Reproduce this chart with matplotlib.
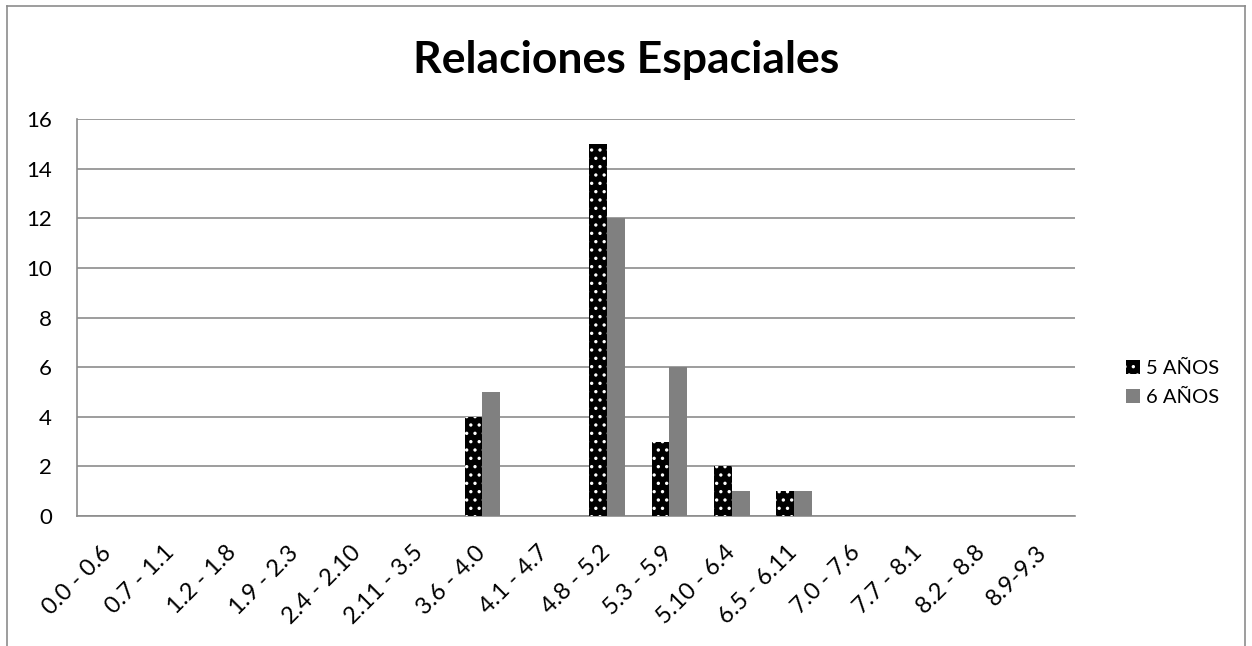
import matplotlib
matplotlib.use("Agg")
import matplotlib.pyplot as plt
import numpy as np
from matplotlib.lines import Line2D

plt.rcParams["font.family"] = ["Lato", "DejaVu Sans"]
plt.rcParams["hatch.linewidth"] = 1.2

categories = [
    "0.0 - 0.6", "0.7 - 1.1", "1.2 - 1.8", "1.9 - 2.3", "2.4 - 2.10",
    "2.11 - 3.5", "3.6 - 4.0", "4.1 - 4.7", "4.8 - 5.2", "5.3 - 5.9",
    "5.10 - 6.4", "6.5 - 6.11", "7.0 - 7.6", "7.7 - 8.1", "8.2 - 8.8",
    "8.9-9.3",
]
anos_5 = [0, 0, 0, 0, 0, 0, 4, 0, 15, 3, 2, 1, 0, 0, 0, 0]
anos_6 = [0, 0, 0, 0, 0, 0, 5, 0, 12, 6, 1, 1, 0, 0, 0, 0]
y_ticks = [0, 2, 4, 6, 8, 10, 12, 14, 16]

fig = plt.figure(figsize=(12.52, 6.46), dpi=100)
ax = fig.add_axes([0.0615, 0.2012, 0.797, 0.6146])

# outer chart frame (bottom edge is cut off in the original)
frame_color = "#8c8c8c"
W, H = 1252, 646
for xs, ys in [
    ([7, 7], [646, 6]),
    ([7, 1245], [6, 6]),
    ([1245, 1245], [6, 646]),
]:
    fig.add_artist(
        Line2D(
            [x / W for x in xs],
            [1 - y / H for y in ys],
            transform=fig.transFigure,
            color=frame_color,
            linewidth=1.2,
        )
    )

x = np.arange(len(categories))
width = 0.285

ax.bar(
    x - width / 2,
    anos_5,
    width,
    color="black",
    edgecolor="white",
    linewidth=0,
    hatch="..",
    label="5 AÑOS",
    zorder=3,
)
ax.bar(
    x + width / 2,
    anos_6,
    width,
    color="#808080",
    linewidth=0,
    label="6 AÑOS",
    zorder=3,
)

ax.set_xlim(-0.5, len(categories) - 0.5)
ax.set_ylim(0, 16)
ax.set_yticks(y_ticks)
ax.set_yticklabels([str(v) for v in y_ticks], fontsize=16)
ax.set_xticks(x)
ax.set_xticklabels(
    categories,
    rotation=45,
    ha="right",
    va="center",
    rotation_mode="anchor",
    fontsize=17,
)
ax.tick_params(axis="both", length=0)
ax.tick_params(axis="y", pad=18)
ax.tick_params(axis="x", pad=24)

ax.grid(axis="y", color="#8c8c8c", linewidth=1.2, zorder=0)
for side in ["top", "right"]:
    ax.spines[side].set_visible(False)
for side in ["left", "bottom"]:
    ax.spines[side].set_color("#8c8c8c")
    ax.spines[side].set_linewidth(1.2)

fig.text(
    0.5,
    1 - 60 / H,
    "Relaciones Espaciales",
    ha="center",
    va="center",
    fontsize=32,
    fontweight="bold",
)

fig.legend(
    loc="center left",
    bbox_to_anchor=(1108 / W, 1 - 383 / H),
    bbox_transform=fig.transFigure,
    frameon=False,
    fontsize=14.5,
    handlelength=0.7,
    handleheight=0.7,
    handletextpad=0.3,
    labelspacing=0.6,
)

plt.savefig("out.png", dpi=100)
plt.close(fig)
